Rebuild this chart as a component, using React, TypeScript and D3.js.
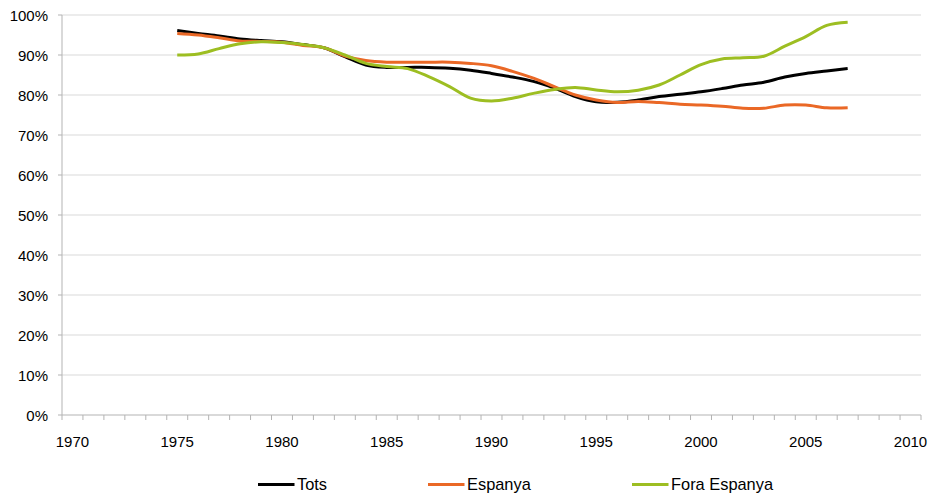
import React from "react";
import * as d3 from "d3";

const categories: number[] = d3.range(1970, 2011);
const dataYears: number[] = d3.range(1975, 2008);

const tots: number[] = [
  96.1, 95.4, 94.75, 94.0, 93.6, 93.3, 92.6, 91.8, 89.6, 87.5, 86.9, 86.9, 86.9, 86.7, 86.2, 85.4, 84.5,
  83.4, 81.7, 79.6, 78.3, 78.2, 78.75, 79.6, 80.2, 80.8, 81.6, 82.5, 83.2, 84.5, 85.4, 86.0, 86.6,
];
const espanya: number[] = [
  95.4, 95.0, 94.3, 93.5, 93.4, 93.2, 92.4, 91.8, 89.75, 88.6, 88.2, 88.2, 88.2, 88.2, 87.9, 87.3, 85.9,
  84.2, 82.1, 80.0, 78.75, 78.1, 78.4, 78.1, 77.7, 77.5, 77.2, 76.7, 76.7, 77.5, 77.5, 76.8, 76.8,
];
const foraEspanya: number[] = [
  90.0, 90.25, 91.6, 92.8, 93.3, 93.1, 92.6, 91.8, 90.0, 87.9, 87.1, 86.6, 84.6, 82.1, 79.2, 78.5, 79.2,
  80.4, 81.4, 81.9, 81.25, 80.8, 81.2, 82.5, 85.0, 87.6, 89.0, 89.3, 89.7, 92.2, 94.6, 97.4, 98.2,
];

const yTicks: number[] = d3.range(0, 101, 10);
const xLabelYears: number[] = [1970, 1975, 1980, 1985, 1990, 1995, 2000, 2005, 2010];

const seriesNames: string[] = ["Tots", "Espanya", "Fora Espanya"];
const seriesColors: string[] = ["#000000", "#EA6826", "#9DBE22"];

const W = 932;
const H = 495;
const left = 62;
const right = 921;
const top = 15;
const bottom = 415;

export default function App() {
  const x = d3
    .scaleBand<number>()
    .domain(categories)
    .range([left, right])
    .paddingInner(0)
    .paddingOuter(0);
  const y = d3.scaleLinear().domain([0, 100]).range([bottom, top]);
  const cx = (yr: number) => (x(yr) as number) + x.bandwidth() / 2;

  const line = d3
    .line<[number, number]>()
    .x((d) => cx(d[0]))
    .y((d) => y(d[1]))
    .curve(d3.curveCatmullRom.alpha(0.5));

  const allSeries = [tots, espanya, foraEspanya];
  const boundaries = categories.map((c) => x(c) as number).concat([right]);

  const font = "'Liberation Sans', Arial, sans-serif";
  const legendX = [258, 428, 632];

  return (
    <svg
      width={W}
      height={H}
      style={{ position: "absolute", left: 0, top: 0, background: "#fff" }}
      fontFamily={font}
    >
      {yTicks.map((t) => (
        <g key={"y" + t}>
          {t > 0 && (
            <line x1={left} x2={right} y1={y(t)} y2={y(t)} stroke="#d9d9d9" strokeWidth={1} />
          )}
          <line x1={left - 4} x2={left} y1={y(t)} y2={y(t)} stroke="#b3b3b3" strokeWidth={1} />
          <text x={48} y={y(t) + 5.5} textAnchor="end" fontSize={15} fill="#000">
            {t + "%"}
          </text>
        </g>
      ))}
      <line x1={left} x2={left} y1={top} y2={bottom} stroke="#b3b3b3" strokeWidth={1} />
      <line x1={left} x2={right} y1={bottom} y2={bottom} stroke="#b3b3b3" strokeWidth={1} />
      {boundaries.map((b, i) => (
        <line key={"xt" + i} x1={b} x2={b} y1={bottom} y2={bottom + 5} stroke="#b3b3b3" strokeWidth={1} />
      ))}
      {xLabelYears.map((yr) => (
        <text key={"xl" + yr} x={cx(yr)} y={447} textAnchor="middle" fontSize={15} fill="#000">
          {yr}
        </text>
      ))}
      {allSeries.map((s, i) => (
        <path
          key={"s" + i}
          d={line(dataYears.map((yr, j) => [yr, s[j]] as [number, number])) || ""}
          fill="none"
          stroke={seriesColors[i]}
          strokeWidth={3}
          strokeLinejoin="round"
        />
      ))}
      {seriesNames.map((n, i) => (
        <g key={"lg" + i}>
          <line
            x1={legendX[i]}
            x2={legendX[i] + 36.5}
            y1={484.5}
            y2={484.5}
            stroke={seriesColors[i]}
            strokeWidth={3}
          />
          <text x={legendX[i] + 39} y={490} fontSize={16.4} fill="#000">
            {n}
          </text>
        </g>
      ))}
    </svg>
  );
}
